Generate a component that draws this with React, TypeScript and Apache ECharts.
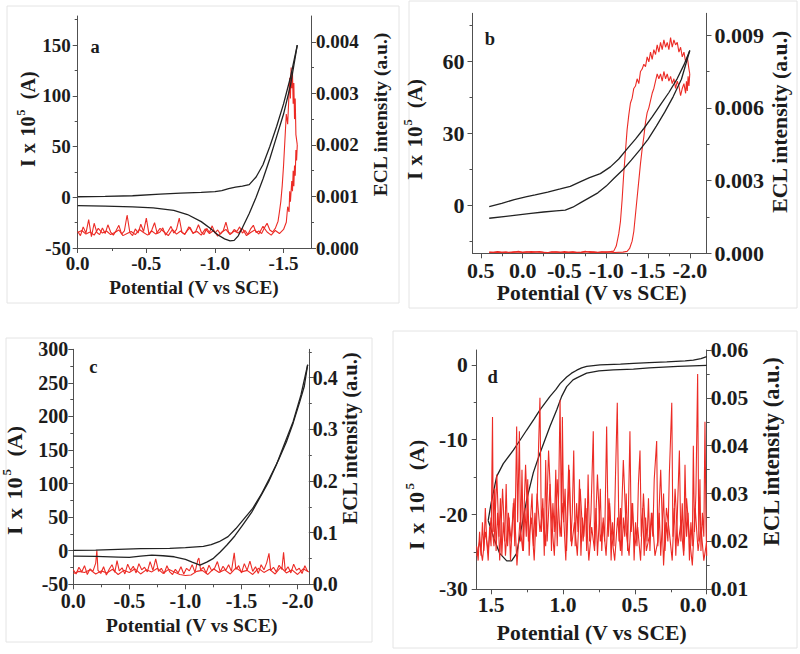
import React, { useEffect, useRef } from 'react';
import * as echarts from 'echarts';

type Pt = [number, number];

// ---------------- Panel a ----------------
const aCvForward: Pt[] = [[0,0.5],[-0.2,0.8],[-0.4,1.5],[-0.6,3],[-0.75,4],[-0.9,4.8],[-1.0,5.5],[-1.05,6.5],[-1.1,8.5],[-1.15,10],[-1.2,11],[-1.25,12.5],[-1.3,20],[-1.35,32],[-1.4,50],[-1.45,70],[-1.5,92],[-1.55,118],[-1.6,150]];
const aCvReverse: Pt[] = [[-1.6,150],[-1.55,110],[-1.5,82],[-1.45,60],[-1.4,38],[-1.35,18],[-1.3,0],[-1.25,-16],[-1.2,-30],[-1.17,-38],[-1.14,-42.5],[-1.11,-43],[-1.07,-41],[-1.02,-37],[-0.97,-31],[-0.9,-24],[-0.8,-17],[-0.7,-13],[-0.55,-10.5],[-0.4,-9.5],[-0.2,-8.8],[0,-8.3]];
const aEclForward: Pt[] = [[0,0.00032],[-0.02,0.00024],[-0.04,0.00041],[-0.06,0.00029],[-0.08,0.00055],[-0.1,0.00022],[-0.12,0.00048],[-0.14,0.0003],[-0.16,0.00026],[-0.18,0.00039],[-0.2,0.00028],[-0.22,0.00045],[-0.24,0.00031],[-0.26,0.00025],[-0.28,0.00034],[-0.3,0.00044],[-0.32,0.00027],[-0.34,0.00033],[-0.36,0.00064],[-0.38,0.0003],[-0.4,0.00024],[-0.42,0.00037],[-0.44,0.00029],[-0.46,0.00046],[-0.48,0.00032],[-0.5,0.00058],[-0.52,0.00026],[-0.54,0.00035],[-0.56,0.00049],[-0.58,0.00028],[-0.6,0.00031],[-0.62,0.00039],[-0.64,0.00025],[-0.66,0.00033],[-0.68,0.00042],[-0.7,0.00029],[-0.72,0.00036],[-0.74,0.00058],[-0.76,0.0003],[-0.78,0.00027],[-0.8,0.00034],[-0.82,0.0004],[-0.84,0.00028],[-0.86,0.00032],[-0.88,0.00045],[-0.9,0.00031],[-0.92,0.00026],[-0.94,0.00038],[-0.96,0.0003],[-0.98,0.00043],[-1,0.00029],[-1.02,0.00035],[-1.04,0.00027],[-1.06,0.00033],[-1.08,0.0005],[-1.1,0.0003],[-1.12,0.00028],[-1.14,0.00036],[-1.16,0.00032],[-1.18,0.00041],[-1.2,0.00029],[-1.22,0.00034],[-1.24,0.00026],[-1.26,0.00037],[-1.28,0.00044],[-1.3,0.0003],[-1.32,0.00033],[-1.34,0.00028],[-1.36,0.00039],[-1.38,0.00048],[-1.4,0.00035],[-1.42,0.00031],[-1.44,0.00038],[-1.46,0.00052],[-1.47,0.0007],[-1.48,0.0009],[-1.49,0.0012],[-1.5,0.0016],[-1.51,0.0021],[-1.52,0.0026],[-1.53,0.0024],[-1.54,0.003],[-1.545,0.0033],[-1.55,0.0029],[-1.555,0.0035],[-1.56,0.0031],[-1.565,0.0034],[-1.57,0.0028],[-1.575,0.0032],[-1.58,0.0025],[-1.585,0.0029],[-1.59,0.0022],[-1.6,0.002]];
const aEclReverse: Pt[] = [[-1.6,0.002],[-1.595,0.0017],[-1.59,0.0019],[-1.585,0.0014],[-1.58,0.0016],[-1.575,0.0012],[-1.57,0.0015],[-1.565,0.0011],[-1.56,0.0013],[-1.55,0.0009],[-1.545,0.0011],[-1.54,0.0007],[-1.53,0.0008],[-1.52,0.0005],[-1.5,0.00036],[-1.47,0.00028],[-1.44,0.00034],[-1.41,0.00025],[-1.38,0.00031],[-1.35,0.00042],[-1.32,0.00027],[-1.29,0.00035],[-1.26,0.0003],[-1.23,0.00024],[-1.2,0.00038],[-1.17,0.00029],[-1.14,0.00033],[-1.11,0.00026],[-1.08,0.00036],[-1.05,0.00031],[-1.02,0.00023],[-0.99,0.00034],[-0.96,0.00028],[-0.93,0.00037],[-0.9,0.00025],[-0.87,0.00032],[-0.84,0.00029],[-0.81,0.00041],[-0.78,0.00026],[-0.75,0.00033],[-0.72,0.00027],[-0.69,0.00036],[-0.66,0.00024],[-0.63,0.00031],[-0.6,0.00038],[-0.57,0.00027],[-0.54,0.00033],[-0.51,0.00025],[-0.48,0.0003],[-0.45,0.00036],[-0.42,0.00026],[-0.39,0.00032],[-0.36,0.00028],[-0.33,0.00024],[-0.3,0.00035],[-0.27,0.0003],[-0.24,0.00026],[-0.21,0.00033],[-0.18,0.00029],[-0.15,0.00038],[-0.12,0.00025],[-0.09,0.00031],[-0.06,0.00027],[-0.03,0.00034],[0,0.0003]];
const aXTicks = [0, -0.5, -1, -1.5];
const aXMinor = [-0.25, -0.75, -1.25];
const aYTicks = [-50, 0, 50, 100, 150];
const aYMinor = [-25, 25, 75, 125, 175];
const aRTicks = [0, 0.001, 0.002, 0.003, 0.004];
const aRMinor = [0.0005, 0.0015, 0.0025, 0.0035];

// ---------------- Panel b ----------------
const bCvUpper: Pt[] = [[0.4,-0.6],[0.25,0.8],[0.1,2.4],[-0.05,3.6],[-0.15,4.3],[-0.3,5.5],[-0.45,6.8],[-0.57,7.9],[-0.7,10],[-0.8,11.5],[-0.93,13.2],[-1.05,16],[-1.15,19.3],[-1.25,23.5],[-1.35,27.6],[-1.45,32],[-1.55,36.8],[-1.65,41.9],[-1.75,47],[-1.85,52.8],[-1.93,58.5],[-2.0,64.5]];
const bCvLower: Pt[] = [[0.4,-5.4],[0.2,-4.6],[0.05,-4.0],[-0.1,-3.4],[-0.25,-2.8],[-0.4,-2.3],[-0.51,-2.0],[-0.6,-0.8],[-0.7,1.2],[-0.8,3.2],[-0.9,5.2],[-1.0,8],[-1.1,11.5],[-1.2,14.8],[-1.3,18.8],[-1.4,23],[-1.5,27.5],[-1.6,33],[-1.7,38.8],[-1.8,45.2],[-1.9,52.5],[-2.0,64.5]];
const bEclForward: Pt[] = [[0.4,0.00005],[0.35,0.00003],[0.3,0.00007],[0.25,0.00004],[0.2,0.00006],[0.15,0.00002],[0.1,0.00005],[0.05,0.00008],[0,0.00004],[-0.05,0.00006],[-0.1,0.00003],[-0.15,0.00005],[-0.2,0.00007],[-0.25,0.00004],[-0.3,0.00002],[-0.35,0.00006],[-0.4,0.00005],[-0.45,0.00003],[-0.5,0.00007],[-0.55,0.00004],[-0.6,0.00006],[-0.65,0.00003],[-0.7,0.00005],[-0.75,0.00008],[-0.8,0.00004],[-0.85,0.00005],[-0.9,0.00003],[-0.95,0.00006],[-1.0,0.00004],[-1.05,0.00007],[-1.09,0.00009],[-1.12,0.0003],[-1.15,0.0008],[-1.17,0.0013],[-1.19,0.0022],[-1.21,0.0033],[-1.23,0.0042],[-1.25,0.0051],[-1.27,0.0057],[-1.29,0.0062],[-1.31,0.0064],[-1.33,0.0068],[-1.35,0.0069],[-1.37,0.0072],[-1.39,0.007],[-1.41,0.0075],[-1.43,0.0076],[-1.45,0.0078],[-1.47,0.0077],[-1.49,0.0081],[-1.51,0.0079],[-1.53,0.0083],[-1.55,0.008],[-1.57,0.0084],[-1.59,0.0082],[-1.61,0.0086],[-1.63,0.0083],[-1.65,0.0087],[-1.67,0.0084],[-1.69,0.0088],[-1.71,0.0085],[-1.73,0.0087],[-1.75,0.0084],[-1.77,0.0089],[-1.79,0.0085],[-1.81,0.0088],[-1.83,0.0086],[-1.85,0.0087],[-1.87,0.0083],[-1.89,0.0085],[-1.91,0.0081],[-1.93,0.0083],[-1.95,0.0079],[-1.97,0.0081],[-1.99,0.0076],[-2.0,0.0074]];
const bEclReverse: Pt[] = [[-2.0,0.0074],[-1.99,0.0069],[-1.98,0.0073],[-1.97,0.0067],[-1.96,0.0071],[-1.95,0.0066],[-1.93,0.007],[-1.91,0.0068],[-1.89,0.0065],[-1.87,0.0069],[-1.85,0.0071],[-1.83,0.0068],[-1.81,0.0072],[-1.79,0.007],[-1.77,0.0073],[-1.75,0.0071],[-1.73,0.0074],[-1.71,0.0072],[-1.69,0.0075],[-1.67,0.0071],[-1.65,0.0074],[-1.63,0.0072],[-1.61,0.0074],[-1.59,0.0071],[-1.57,0.0068],[-1.55,0.0066],[-1.53,0.0063],[-1.51,0.006],[-1.49,0.0058],[-1.47,0.0054],[-1.45,0.0048],[-1.43,0.0043],[-1.41,0.0037],[-1.39,0.003],[-1.37,0.0023],[-1.35,0.0016],[-1.33,0.0009],[-1.31,0.0005],[-1.28,0.0002],[-1.25,0.00008],[-1.2,0.00005],[-1.1,0.00003],[-1.0,0.00006],[-0.9,0.00004],[-0.8,0.00007],[-0.7,0.00003],[-0.6,0.00005],[-0.5,0.00004],[-0.4,0.00006],[-0.3,0.00003],[-0.2,0.00005],[-0.1,0.00007],[0,0.00004],[0.1,0.00006],[0.2,0.00003],[0.3,0.00005],[0.4,0.00004]];
const bXTicks = [0.5, 0, -0.5, -1, -1.5, -2];
const bXMinor = [0.25, -0.25, -0.75, -1.25, -1.75];
const bYTicks = [0, 30, 60];
const bYMinor = [-15, 15, 45, 75];
const bRTicks = [0, 0.003, 0.006, 0.009];
const bRMinor = [0.0015, 0.0045, 0.0075];

// ---------------- Panel c ----------------
const cCvUpper: Pt[] = [[0,0.5],[-0.2,1],[-0.4,2],[-0.6,3],[-0.86,3.6],[-1.0,4.5],[-1.16,6.5],[-1.23,9],[-1.3,13.4],[-1.38,21],[-1.45,33],[-1.52,47],[-1.6,63],[-1.68,85],[-1.75,108],[-1.83,135],[-1.9,162],[-1.96,190],[-2.02,222],[-2.06,245],[-2.09,277]];
const cCvLower: Pt[] = [[0,-8],[-0.2,-8.5],[-0.4,-9.5],[-0.5,-10],[-0.6,-8],[-0.7,-6.5],[-0.8,-7.5],[-0.9,-9],[-1.0,-13],[-1.06,-17],[-1.13,-21.3],[-1.19,-17],[-1.25,-11.3],[-1.31,-2],[-1.37,8.5],[-1.44,22],[-1.51,38.3],[-1.59,57],[-1.66,78],[-1.74,102],[-1.81,127.7],[-1.88,158],[-1.96,192.2],[-2.03,232],[-2.09,277]];
const cEclForward: Pt[] = [[0,0.028],[-0.025,0.02],[-0.05,0.033],[-0.075,0.024],[-0.1,0.036],[-0.125,0.019],[-0.15,0.03],[-0.175,0.025],[-0.2,0.041],[-0.21,0.066],[-0.22,0.027],[-0.245,0.021],[-0.27,0.034],[-0.295,0.018],[-0.32,0.029],[-0.345,0.038],[-0.37,0.023],[-0.39,0.046],[-0.41,0.026],[-0.435,0.032],[-0.46,0.02],[-0.485,0.039],[-0.51,0.027],[-0.535,0.035],[-0.56,0.022],[-0.585,0.04],[-0.61,0.028],[-0.635,0.033],[-0.66,0.024],[-0.685,0.044],[-0.71,0.027],[-0.735,0.049],[-0.76,0.025],[-0.785,0.031],[-0.81,0.021],[-0.835,0.036],[-0.86,0.024],[-0.885,0.019],[-0.91,0.029],[-0.935,0.022],[-0.96,0.034],[-0.985,0.02],[-1.01,0.031],[-1.035,0.026],[-1.06,0.038],[-1.085,0.023],[-1.11,0.047],[-1.12,0.051],[-1.135,0.028],[-1.16,0.033],[-1.185,0.022],[-1.21,0.037],[-1.235,0.026],[-1.26,0.031],[-1.285,0.044],[-1.31,0.024],[-1.335,0.035],[-1.36,0.027],[-1.385,0.038],[-1.41,0.025],[-1.435,0.061],[-1.45,0.029],[-1.475,0.036],[-1.5,0.022],[-1.525,0.04],[-1.55,0.027],[-1.575,0.045],[-1.6,0.025],[-1.625,0.034],[-1.65,0.021],[-1.675,0.038],[-1.7,0.028],[-1.725,0.042],[-1.745,0.06],[-1.76,0.027],[-1.785,0.033],[-1.81,0.024],[-1.835,0.037],[-1.86,0.029],[-1.875,0.062],[-1.89,0.026],[-1.915,0.034],[-1.94,0.022],[-1.965,0.039],[-1.99,0.027],[-2.015,0.031],[-2.04,0.021],[-2.065,0.036],[-2.09,0.025]];
const cEclReverse: Pt[] = [[-2.1,0.024],[-2.05,0.03],[-2.0,0.019],[-1.95,0.028],[-1.9,0.022],[-1.85,0.033],[-1.8,0.02],[-1.75,0.029],[-1.7,0.023],[-1.65,0.031],[-1.6,0.019],[-1.55,0.027],[-1.5,0.024],[-1.45,0.032],[-1.4,0.02],[-1.35,0.028],[-1.3,0.023],[-1.25,0.03],[-1.2,0.019],[-1.15,0.027],[-1.1,0.025],[-1.05,0.018],[-1.0,0.017],[-0.95,0.019],[-0.9,0.024],[-0.85,0.029],[-0.8,0.021],[-0.75,0.031],[-0.7,0.024],[-0.65,0.028],[-0.6,0.02],[-0.55,0.03],[-0.5,0.023],[-0.45,0.027],[-0.4,0.019],[-0.35,0.029],[-0.3,0.022],[-0.25,0.026],[-0.2,0.02],[-0.15,0.028],[-0.1,0.023],[-0.05,0.025],[0,0.021]];
const cXTicks = [0, -0.5, -1, -1.5, -2];
const cXMinor = [-0.25, -0.75, -1.25, -1.75];
const cYTicks = [-50, 0, 50, 100, 150, 200, 250, 300];
const cYMinor = [-25, 25, 75, 125, 175, 225, 275];
const cRTicks = [0, 0.1, 0.2, 0.3, 0.4];
const cRMinor = [0.05, 0.15, 0.25, 0.35, 0.45];

// ---------------- Panel d ----------------
const dCvForward: Pt[] = [[0,-0.05],[0.2,-0.2],[0.4,-0.4],[0.51,-0.55],[0.65,-0.65],[0.75,-0.8],[0.835,-1.1],[0.9,-1.7],[0.93,-2.0],[0.974,-2.9],[1.009,-4.2],[1.043,-6],[1.09,-8.2],[1.16,-11.8],[1.206,-14.4],[1.252,-18],[1.287,-21.6],[1.322,-25.2],[1.357,-26.2],[1.391,-26.2],[1.44,-25.2],[1.48,-23.2],[1.52,-20.8]];
const dCvReverse: Pt[] = [[1.52,-20.8],[1.5,-18.5],[1.461,-14.9],[1.415,-13.2],[1.345,-11.4],[1.3,-10.1],[1.252,-8.7],[1.2,-7.2],[1.16,-6],[1.09,-4.2],[1.05,-3.3],[1.02,-2.5],[0.974,-1.6],[0.94,-1.1],[0.904,-0.7],[0.87,-0.4],[0.835,-0.2],[0.742,0],[0.6,0.1],[0.51,0.2],[0.4,0.3],[0.278,0.4],[0.15,0.55],[0.093,0.65],[0.04,0.85],[0,1.1]];
const dEclForward: Pt[] = [[1.6,0.019],[1.59,0.016],[1.58,0.022],[1.57,0.017],[1.56,0.024],[1.55,0.018],[1.54,0.027],[1.53,0.02],[1.52,0.016],[1.51,0.023],[1.5,0.019],[1.49,0.046],[1.485,0.022],[1.475,0.031],[1.465,0.018],[1.455,0.026],[1.445,0.021],[1.435,0.029],[1.425,0.017],[1.415,0.024],[1.405,0.02],[1.395,0.032],[1.385,0.019],[1.375,0.025],[1.365,0.016],[1.355,0.022],[1.345,0.028],[1.335,0.019],[1.322,0.044],[1.315,0.024],[1.303,0.043],[1.295,0.02],[1.285,0.035],[1.275,0.018],[1.265,0.027],[1.255,0.021],[1.245,0.033],[1.235,0.017],[1.225,0.025],[1.215,0.03],[1.205,0.019],[1.195,0.026],[1.185,0.021],[1.175,0.034],[1.16,0.05],[1.15,0.022],[1.14,0.029],[1.13,0.017],[1.12,0.037],[1.11,0.02],[1.1,0.026],[1.09,0.032],[1.08,0.018],[1.07,0.028],[1.06,0.022],[1.05,0.035],[1.04,0.019],[1.03,0.03],[1.02,0.0496],[1.01,0.021],[1.004,0.046],[0.995,0.024],[0.985,0.031],[0.975,0.018],[0.965,0.027],[0.955,0.035],[0.945,0.02],[0.935,0.026],[0.925,0.039],[0.915,0.019],[0.905,0.028],[0.895,0.022],[0.885,0.033],[0.875,0.017],[0.865,0.025],[0.855,0.021],[0.845,0.029],[0.835,0.018],[0.825,0.034],[0.815,0.02],[0.805,0.026],[0.789,0.043],[0.78,0.019],[0.77,0.027],[0.76,0.017],[0.75,0.023],[0.74,0.031],[0.73,0.018],[0.72,0.025],[0.71,0.02],[0.696,0.044],[0.685,0.021],[0.675,0.028],[0.665,0.016],[0.655,0.024],[0.645,0.019],[0.635,0.033],[0.622,0.049],[0.61,0.02],[0.6,0.027],[0.59,0.017],[0.58,0.025],[0.57,0.021],[0.56,0.03],[0.55,0.018],[0.534,0.043],[0.525,0.022],[0.515,0.028],[0.505,0.016],[0.495,0.024],[0.485,0.019],[0.475,0.032],[0.464,0.039],[0.455,0.021],[0.445,0.027],[0.435,0.017],[0.425,0.025],[0.415,0.02],[0.405,0.029],[0.395,0.018],[0.385,0.026],[0.375,0.021],[0.365,0.033],[0.348,0.041],[0.34,0.019],[0.33,0.026],[0.32,0.017],[0.31,0.023],[0.3,0.03],[0.29,0.018],[0.28,0.024],[0.27,0.02],[0.26,0.034],[0.243,0.049],[0.235,0.021],[0.225,0.027],[0.215,0.017],[0.205,0.025],[0.19,0.039],[0.18,0.02],[0.17,0.028],[0.16,0.018],[0.151,0.036],[0.14,0.021],[0.13,0.026],[0.12,0.016],[0.11,0.024],[0.1,0.019],[0.093,0.04],[0.085,0.022],[0.075,0.03],[0.063,0.055],[0.055,0.02],[0.047,0.033],[0.04,0.018],[0.03,0.026],[0.02,0.021],[0.012,0.045],[0.005,0.024],[0,0.017]];
const dEclReverse: Pt[] = [[0,0.02],[0.02,0.016],[0.04,0.023],[0.06,0.018],[0.08,0.027],[0.1,0.015],[0.12,0.021],[0.14,0.029],[0.16,0.017],[0.18,0.024],[0.2,0.019],[0.22,0.031],[0.24,0.016],[0.26,0.022],[0.28,0.027],[0.3,0.015],[0.32,0.035],[0.34,0.02],[0.36,0.017],[0.38,0.026],[0.4,0.021],[0.42,0.018],[0.44,0.03],[0.46,0.016],[0.48,0.023],[0.5,0.019],[0.52,0.028],[0.54,0.017],[0.56,0.022],[0.58,0.037],[0.6,0.018],[0.62,0.025],[0.64,0.016],[0.66,0.021],[0.68,0.029],[0.7,0.017],[0.72,0.024],[0.74,0.02],[0.76,0.034],[0.78,0.018],[0.8,0.023],[0.82,0.016],[0.84,0.027],[0.86,0.02],[0.88,0.031],[0.9,0.017],[0.92,0.024],[0.94,0.019],[0.96,0.036],[0.98,0.016],[1.0,0.028],[1.02,0.021],[1.04,0.033],[1.06,0.017],[1.08,0.025],[1.1,0.039],[1.12,0.019],[1.14,0.027],[1.16,0.022],[1.18,0.03],[1.2,0.016],[1.22,0.025],[1.24,0.02],[1.26,0.036],[1.28,0.018],[1.3,0.024],[1.32,0.015],[1.34,0.029],[1.36,0.02],[1.38,0.026],[1.4,0.017],[1.42,0.031],[1.44,0.016],[1.46,0.034],[1.48,0.019],[1.5,0.025],[1.52,0.018],[1.54,0.022],[1.56,0.016],[1.58,0.02],[1.6,0.017]];
const dXTicks = [1.5, 1, 0.5, 0];
const dXMinor = [1.25, 0.75, 0.25];
const dYTicks = [-30, -20, -10, 0];
const dYMinor = [-25, -15, -5];
const dRTicks = [0.01, 0.02, 0.03, 0.04, 0.05, 0.06];
const dRMinor = [0.015, 0.025, 0.035, 0.045, 0.055];

// ---------------- texts ----------------
const panelLetters = ['a', 'b', 'c', 'd'];
const xTitle = 'Potential (V vs SCE)';
const rightTitle = 'ECL intensity (a.u.)';
const leftTitleParts = ['I', 'x', '10', '5', '(A)'];

// ---------------- styling / layout ----------------
const FONT = '"Liberation Serif", "Times New Roman", Times, serif';
const TXT = '#1c1c1c';
const AX = '#505050';
const RED = '#ec2b25';
const BLK = '#222222';
// relative start of each part of the left title along its length (from reference)
const LEFT_PART_POS = [0, 0.135, 0.3, 0.505, 0.665];

interface AxisCfg { min: number; max: number; inverse?: boolean; major: number[]; minor: number[]; digits: number; margin: number; alignLast?: string; }
interface SeriesCfg { data: Pt[]; side: 'l' | 'r'; color: string; width: number; z: number; }
interface PanelCfg {
  grid: { left: number; top: number; width: number; height: number };
  x: AxisCfg; yl: AxisCfg; yr: AxisCfg; series: SeriesCfg[];
  border: [number, number, number, number];
  tick: number; title: number; rtitle: number; ltitle: number; ltitleLen: number;
  xt: [number, number]; ylt: [number, number]; yrt: [number, number]; letter: [number, number];
}

const panels: PanelCfg[] = [
  {
    grid: { left: 77.7, top: 16, width: 233.3, height: 232 },
    x: { min: -1.7, max: 0, inverse: true, major: aXTicks, minor: aXMinor, digits: 1, margin: 6 },
    yl: { min: -50, max: 178.6, major: aYTicks, minor: aYMinor, digits: 0, margin: 7 },
    yr: { min: 0, max: 0.0045, major: aRTicks, minor: aRMinor, digits: 3, margin: 5 },
    series: [
      { data: aEclForward, side: 'r', color: RED, width: 1.1, z: 2 },
      { data: aEclReverse, side: 'r', color: RED, width: 1.1, z: 2 },
      { data: aCvForward, side: 'l', color: BLK, width: 1.3, z: 3 },
      { data: aCvReverse, side: 'l', color: BLK, width: 1.3, z: 3 },
    ],
    border: [7, 6, 392, 297],
    tick: 19, title: 19.3, rtitle: 19.5, ltitle: 20, ltitleLen: 102,
    xt: [194, 287], ylt: [28, 116], yrt: [380, 114.5], letter: [95, 46.7],
  },
  {
    grid: { left: 472.5, top: 13.3, width: 234, height: 240 },
    x: { min: -2.2, max: 0.6, inverse: true, major: bXTicks, minor: bXMinor, digits: 1, margin: 6 },
    yl: { min: -20, max: 80, major: bYTicks, minor: bYMinor, digits: 0, margin: 8 },
    yr: { min: 0, max: 0.0099, major: bRTicks, minor: bRMinor, digits: 3, margin: 8 },
    series: [
      { data: bEclForward, side: 'r', color: RED, width: 1.1, z: 2 },
      { data: bEclReverse, side: 'r', color: RED, width: 1.1, z: 2 },
      { data: bCvUpper, side: 'l', color: BLK, width: 1.3, z: 3 },
      { data: bCvLower, side: 'l', color: BLK, width: 1.3, z: 3 },
    ],
    border: [409, 1, 388, 307],
    tick: 22, title: 21.6, rtitle: 21.7, ltitle: 21, ltitleLen: 108,
    xt: [591.7, 293.3], ylt: [415, 126], yrt: [780, 121.7], letter: [490, 39.3],
  },
  {
    grid: { left: 73.3, top: 349.3, width: 235.5, height: 235 },
    x: { min: -2.1, max: 0, inverse: true, major: cXTicks, minor: cXMinor, digits: 1, margin: 7 },
    yl: { min: -50, max: 300, major: cYTicks, minor: cYMinor, digits: 0, margin: 5 },
    yr: { min: 0, max: 0.455, major: cRTicks, minor: cRMinor, digits: 1, margin: 4 },
    series: [
      { data: cEclForward, side: 'r', color: RED, width: 1.1, z: 2 },
      { data: cEclReverse, side: 'r', color: RED, width: 1.1, z: 2 },
      { data: cCvUpper, side: 'l', color: BLK, width: 1.3, z: 3 },
      { data: cCvLower, side: 'l', color: BLK, width: 1.3, z: 3 },
    ],
    border: [6, 338, 366, 304],
    tick: 20, title: 19.5, rtitle: 20.5, ltitle: 22, ltitleLen: 118,
    xt: [191.7, 625], ylt: [14, 476], yrt: [350, 438.3], letter: [93.3, 366.7],
  },
  {
    grid: { left: 476.7, top: 350, width: 230, height: 239.3 },
    x: { min: 0, max: 1.6, inverse: true, major: dXTicks, minor: dXMinor, digits: 1, margin: 5, alignLast: 'right' },
    yl: { min: -30, max: 2, major: dYTicks, minor: dYMinor, digits: 0, margin: 9 },
    yr: { min: 0.01, max: 0.06, major: dRTicks, minor: dRMinor, digits: 2, margin: 4 },
    series: [
      { data: dCvForward, side: 'l', color: BLK, width: 1.3, z: 2 },
      { data: dCvReverse, side: 'l', color: BLK, width: 1.3, z: 2 },
      { data: dEclForward, side: 'r', color: RED, width: 1.1, z: 3 },
      { data: dEclReverse, side: 'r', color: RED, width: 1.1, z: 3 },
    ],
    border: [393, 331, 404, 317],
    tick: 21.5, title: 21.6, rtitle: 22.5, ltitle: 22, ltitleLen: 120,
    xt: [591.7, 633.3], ylt: [416.7, 490], yrt: [771.7, 451.7], letter: [492.7, 377.3],
  },
];

const fmt = (d: number) => (v: number) => (Math.abs(v) < 1e-12 ? 0 : v).toFixed(d);

function mainAxis(gi: number, a: AxisCfg, position: string, size: number) {
  const label: any = {
    show: true, customValues: a.major, formatter: fmt(a.digits), margin: a.margin,
    fontFamily: FONT, fontWeight: 'bold', fontSize: size, color: TXT,
  };
  if (a.alignLast) label.alignMaxLabel = a.alignLast;
  return {
    gridIndex: gi, type: 'value', position, min: a.min, max: a.max, inverse: !!a.inverse,
    axisLine: { show: true, onZero: false, lineStyle: { color: AX, width: 1 } },
    axisTick: { show: true, inside: false, length: 5, customValues: a.major, lineStyle: { color: AX, width: 1 } },
    axisLabel: label,
    splitLine: { show: false }, minorTick: { show: false },
  };
}
function minorAxis(gi: number, a: AxisCfg, position: string) {
  return {
    gridIndex: gi, type: 'value', position, min: a.min, max: a.max, inverse: !!a.inverse,
    axisLine: { show: false, onZero: false },
    axisTick: { show: true, inside: false, length: 3, customValues: a.minor, lineStyle: { color: AX, width: 1 } },
    axisLabel: { show: false },
    splitLine: { show: false },
  };
}

function textStyle(text: string, size: number, align = 'center') {
  return {
    text, fill: TXT, fontFamily: FONT, fontWeight: 'bold', fontSize: size,
    align, verticalAlign: 'middle', textAlign: align, textVerticalAlign: 'middle',
  };
}
function textEl(x: number, y: number, text: string, size: number, rotate: boolean) {
  return { type: 'text', x, y, rotation: rotate ? Math.PI / 2 : 0, z: 10, style: textStyle(text, size) };
}
function leftTitle(cx: number, cy: number, len: number, size: number) {
  const children = leftTitleParts.map((t, i) => {
    const sup = i === 3;
    return {
      type: 'text', z: 10,
      x: -len / 2 + LEFT_PART_POS[i] * len,
      y: sup ? -size * 0.33 : 0,
      style: textStyle(t, sup ? size * 0.6 : size, 'left'),
    };
  });
  return { type: 'group', x: cx, y: cy, rotation: Math.PI / 2, children };
}

function buildOption() {
  const grid: any[] = [];
  const xAxis: any[] = [];
  const yAxis: any[] = [];
  const series: any[] = [];
  const graphic: any[] = [];
  panels.forEach((p, gi) => {
    grid.push({ ...p.grid, containLabel: false });
    xAxis.push(mainAxis(gi, p.x, 'bottom', p.tick), minorAxis(gi, p.x, 'bottom'));
    yAxis.push(
      mainAxis(gi, p.yl, 'left', p.tick), mainAxis(gi, p.yr, 'right', p.tick),
      minorAxis(gi, p.yl, 'left'), minorAxis(gi, p.yr, 'right'),
    );
    p.series.forEach((s) => {
      series.push({
        type: 'line', xAxisIndex: gi * 2, yAxisIndex: gi * 4 + (s.side === 'l' ? 0 : 1),
        data: s.data, showSymbol: false, symbol: 'none', silent: true, z: s.z,
        lineStyle: { color: s.color, width: s.width },
      });
    });
    const [bx, by, bw, bh] = p.border;
    graphic.push({ type: 'rect', z: 0, shape: { x: bx, y: by, width: bw, height: bh }, style: { fill: 'none', stroke: '#e4e4e4', lineWidth: 1 } });
    graphic.push(textEl(p.xt[0], p.xt[1], xTitle, p.title, false));
    graphic.push(leftTitle(p.ylt[0], p.ylt[1], p.ltitleLen, p.ltitle));
    graphic.push(textEl(p.yrt[0], p.yrt[1], rightTitle, p.rtitle, true));
    graphic.push(textEl(p.letter[0], p.letter[1], panelLetters[gi], 18.5, false));
  });
  return { animation: false, backgroundColor: '#ffffff', grid, xAxis, yAxis, series, graphic };
}

export default function App() {
  const ref = useRef<HTMLDivElement>(null);
  useEffect(() => {
    if (!ref.current) return;
    const chart = echarts.init(ref.current, undefined, { renderer: 'svg' });
    chart.setOption(buildOption() as any);
    return () => chart.dispose();
  }, []);
  return (
    <div
      ref={ref}
      style={{ position: 'fixed', left: 0, top: 0, width: 800, height: 654, background: '#ffffff' }}
    />
  );
}
